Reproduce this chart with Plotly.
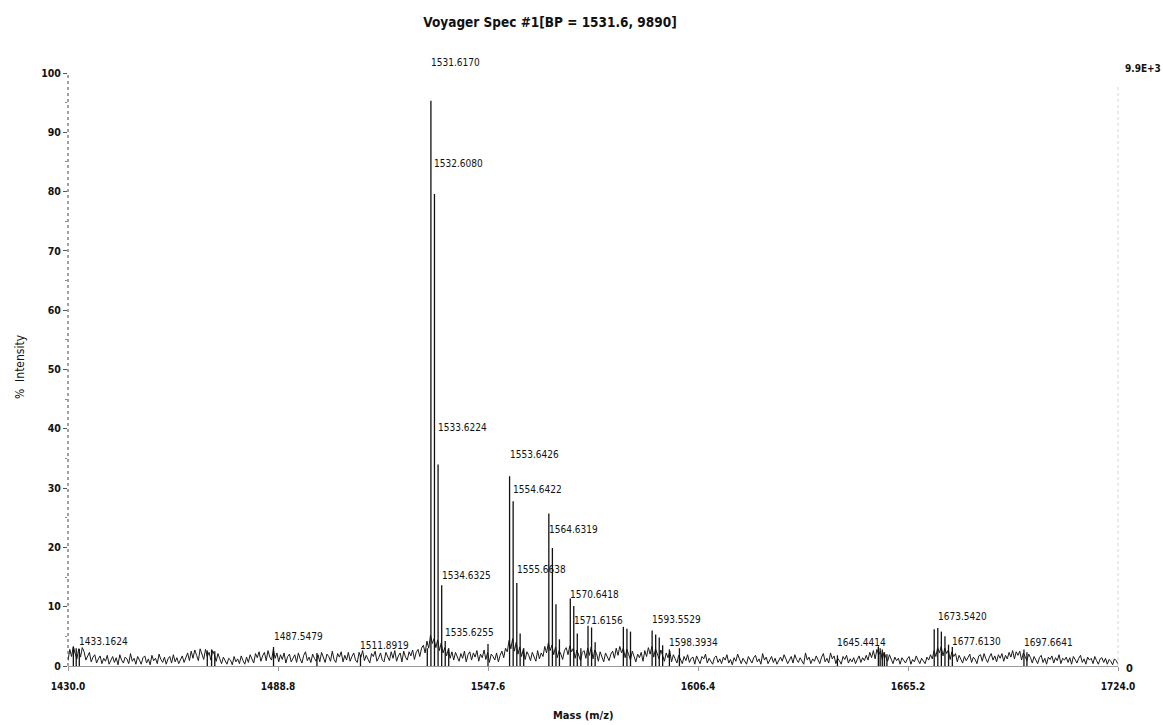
import plotly.graph_objects as go

# ---- data -------------------------------------------------------------
# baseline trace, % intensity, sampled every 0.5 Da starting at 1430.0
noise_start = 1430.0
noise_step = 0.5
noise = [
    0.9, 2.8, 1.6, 3.3, 2.1, 1.2, 2.9, 1.5, 3.1, 2.4, 1.0, 1.8, 2.3, 0.7, 1.5, 1.9, 0.5, 1.2, 1.7, 0.4,
    1.3, 0.8, 1.8, 0.3, 1.1, 1.6, 0.6, 1.4, 0.2, 1.9, 1.0, 0.5, 1.5, 1.2, 0.4, 2.1, 0.8, 1.3, 0.3, 1.6,
    1.0, 0.3, 1.4, 1.7, 0.5, 1.2, 0.2, 1.8, 0.9, 1.3, 0.4, 2.0, 1.1, 0.6, 1.5, 0.3, 1.2, 1.6, 0.5, 1.9,
    0.7, 1.4, 0.4, 1.1, 1.7, 0.6, 1.5, 2.2, 0.9, 2.5, 1.3, 2.7, 1.8, 0.9, 2.9, 2.0, 1.1, 2.8, 1.6, 2.3,
    1.0, 2.6, 1.9, 0.8, 2.1, 1.2, 0.4, 1.5, 0.9, 0.3, 1.3, 1.0, 0.2, 1.6, 0.7, 1.2, 0.4, 1.7, 0.9, 0.3,
    1.5, 0.6, 1.9, 1.2, 0.5, 2.1, 1.4, 2.4, 0.8, 1.7, 2.3, 0.9, 2.6, 1.5, 1.0, 2.8, 1.3, 2.2, 0.7, 1.9,
    1.1, 2.2, 0.5, 1.6, 2.0, 0.7, 1.4, 1.9, 0.6, 2.2, 1.2, 0.5, 1.8, 2.4, 0.9, 1.5, 0.6, 2.0, 1.3, 0.8,
    1.9, 0.7, 2.3, 1.4, 0.6, 2.0, 1.6, 0.8, 2.5, 1.1, 0.6, 2.1, 1.5, 2.4, 0.7, 1.8, 1.0, 2.3, 0.8, 1.6,
    2.2, 1.0, 0.6, 2.3, 1.5, 2.6, 0.9, 1.8, 1.2, 0.5, 2.1, 1.6, 2.5, 0.8, 1.4, 2.2, 1.0, 0.7, 2.3, 1.6,
    0.9, 2.4, 1.3, 2.6, 0.8, 1.7, 2.2, 0.7, 2.5, 1.5, 1.0, 2.4, 1.7, 2.7, 1.1, 2.3, 2.8, 1.6, 3.0, 3.5,
    2.2, 4.2, 3.0, 5.2, 3.8, 4.6, 3.1, 4.4, 2.6, 3.9, 2.2, 3.1, 1.7, 2.9, 1.3, 2.4, 1.0, 2.3, 1.4, 0.8,
    2.1, 1.3, 2.5, 0.7, 1.9, 2.4, 1.0, 2.2, 1.5, 2.6, 0.8, 2.0, 1.4, 2.7, 1.1, 2.3, 0.6, 2.0, 1.6, 1.0,
    2.2, 0.7, 1.8, 2.5, 1.4, 3.0, 2.4, 4.3, 2.9, 4.6, 2.5, 4.0, 2.0, 3.2, 1.6, 2.9, 1.1, 2.4, 1.8, 0.9,
    2.3, 1.5, 0.8, 2.6, 1.2, 2.2, 1.6, 3.3, 2.2, 3.9, 2.6, 3.5, 1.9, 3.2, 1.4, 2.6, 2.0, 1.1, 2.6, 3.1,
    1.9, 3.4, 2.4, 3.0, 1.3, 2.7, 1.8, 0.9, 2.3, 2.6, 1.3, 3.0, 1.8, 3.2, 1.2, 2.7, 2.1, 0.8, 2.4, 1.5,
    0.7, 2.2, 1.6, 0.9, 2.0, 2.5, 1.3, 3.0, 1.8, 3.3, 2.2, 3.0, 1.4, 2.8, 1.9, 1.0, 2.5, 1.6, 0.7, 2.0,
    1.4, 2.3, 0.8, 2.6, 1.6, 3.1, 2.0, 3.3, 1.5, 2.9, 2.2, 1.2, 2.7, 1.6, 0.8, 2.2, 1.4, 2.5, 0.7, 1.9,
    1.2, 0.5, 1.8, 1.1, 0.4, 1.6, 0.9, 1.9, 0.6, 1.3, 1.5, 0.3, 1.7, 1.0, 0.4, 1.6, 1.2, 2.0, 0.5, 1.3,
    0.9, 0.3, 1.4, 1.7, 0.6, 1.2, 0.4, 1.5, 1.0, 1.9, 0.5, 1.1, 0.2, 1.4, 0.8, 2.0, 1.2, 0.4, 1.3, 0.8,
    0.3, 1.6, 1.1, 0.5, 1.4, 1.8, 0.7, 1.2, 0.3, 2.1, 1.0, 1.5, 0.4, 1.1, 1.6, 0.6, 1.3, 0.3, 1.0, 1.5,
    0.8, 1.9, 1.2, 0.4, 1.0, 1.6, 0.5, 1.9, 1.1, 0.6, 1.4, 0.9, 0.3, 2.2, 1.0, 1.5, 0.4, 1.2, 0.8, 1.7,
    1.1, 0.4, 1.5, 2.1, 0.7, 1.3, 0.5, 2.2, 1.2, 1.7, 0.4, 1.3, 0.9, 0.3, 1.6, 1.1, 1.8, 0.5, 1.2, 0.7,
    1.4, 0.4, 1.1, 1.7, 0.6, 1.4, 0.9, 1.8, 1.0, 2.3, 1.4, 2.6, 1.2, 2.8, 1.9, 2.5, 1.1, 2.3, 1.5, 0.8,
    1.9, 1.0, 0.4, 1.5, 0.9, 1.3, 0.3, 1.4, 1.0, 0.5, 1.2, 1.6, 0.3, 1.1, 0.7, 1.7, 1.0, 0.4, 1.3, 0.8,
    0.4, 1.5, 1.0, 1.9, 1.2, 2.6, 1.6, 3.1, 2.2, 3.3, 1.7, 3.0, 2.1, 2.7, 1.1, 2.4, 1.6, 2.1, 0.7, 1.8,
    1.2, 0.5, 1.6, 0.9, 1.4, 2.0, 0.6, 1.5, 1.1, 0.4, 1.7, 1.9, 0.8, 2.1, 1.2, 0.6, 1.5, 2.1, 1.0, 1.7,
    0.7, 1.9, 1.3, 2.1, 0.8, 1.8, 1.2, 2.3, 1.5, 2.6, 1.2, 2.4, 1.8, 2.5, 1.0, 2.2, 1.6, 0.9, 2.0, 1.4,
    0.5, 1.6, 1.0, 0.4, 1.4, 1.8, 0.6, 1.3, 0.3, 1.5, 1.1, 1.7, 0.5, 1.4, 0.9, 1.9, 0.4, 1.3, 1.0, 1.5,
    0.6, 1.4, 0.3, 1.6, 1.1, 0.5, 1.3, 1.8, 0.6, 1.2, 0.3, 1.5, 1.0, 1.3, 0.4, 1.6, 0.9, 0.3, 1.2, 1.4,
    0.6, 1.3, 0.3, 1.1, 0.8, 0.2, 1.2, 0.9, 0.3,
]

# centroided peaks: m/z and % intensity
peak_mass = [
    1431.5, 1432.3, 1433.1624, 1469.0, 1470.2, 1471.1, 1487.5479, 1499.7, 1511.8919,
    1530.6, 1531.6170, 1532.6080, 1533.6224, 1534.6325, 1535.6255, 1536.6, 1547.6,
    1553.6426, 1554.6422, 1555.6638, 1556.6, 1557.6,
    1564.6319, 1565.63, 1566.63, 1567.6,
    1570.6418, 1571.6156, 1572.6, 1573.6, 1575.6, 1576.6, 1577.6,
    1585.5, 1586.5, 1587.5, 1593.5529, 1594.55, 1595.55, 1596.5, 1598.3934, 1601.2,
    1645.4414, 1656.9, 1657.4, 1658.0, 1658.6, 1659.3,
    1672.54, 1673.5420, 1674.54, 1675.55, 1676.55, 1677.6130, 1697.6641, 1698.5,
]
peak_int = [
    3.2, 3.0, 2.9, 2.6, 2.8, 2.5, 3.2, 2.2, 1.8,
    3.0, 95.3, 79.6, 34.0, 13.6, 4.2, 3.0, 3.7,
    32.0, 27.8, 14.0, 5.5, 3.0,
    25.7, 19.9, 10.4, 4.5,
    11.4, 10.1, 5.5, 3.0, 6.8, 6.5, 4.0,
    6.6, 6.3, 5.8, 6.0, 5.3, 4.8, 3.5, 2.8, 3.0,
    1.8, 3.3, 3.0, 2.8, 2.3, 2.0,
    6.2, 6.4, 5.8, 5.0, 3.6, 3.2, 2.8, 2.3,
]

# annotated peaks (m/z)
label_mass = [
    1433.1624, 1487.5479, 1511.8919, 1531.6170, 1532.6080, 1533.6224, 1534.6325,
    1535.6255, 1553.6426, 1554.6422, 1555.6638, 1564.6319, 1570.6418, 1571.6156,
    1593.5529, 1598.3934, 1645.4414, 1673.5420, 1677.6130, 1697.6641,
]
# vertical placement of each annotation, in % intensity
label_y = [
    4.2, 4.9, 3.5, 101.7, 84.8, 40.3, 15.3,
    5.7, 35.6, 29.7, 16.2, 23.1, 12.1, 7.6,
    7.9, 4.0, 3.9, 8.3, 4.2, 3.9,
]

x_ticks = [1430.0, 1488.8, 1547.6, 1606.4, 1665.2, 1724.0]
y_ticks = [0, 10, 20, 30, 40, 50, 60, 70, 80, 90, 100]

# ---- figure -----------------------------------------------------------
NARROW = "Liberation Sans Narrow, Arial Narrow, DejaVu Sans Condensed, sans-serif"
PX_PER_PCT = 593 / 100  # plot height / y range

noise_mass = [noise_start + i * noise_step for i in range(len(noise))]

stick_x, stick_y = [], []
for m, h in zip(peak_mass, peak_int):
    stick_x += [m, m, None]
    stick_y += [0, h, None]

fig = go.Figure()
fig.add_trace(go.Scatter(
    x=noise_mass, y=noise, mode="lines",
    line=dict(color="#1a1a1a", width=1), hoverinfo="skip", showlegend=False,
))
fig.add_trace(go.Scatter(
    x=stick_x, y=stick_y, mode="lines",
    line=dict(color="#111111", width=1.3), hoverinfo="skip", showlegend=False,
))

annotations = []
for m, yv in zip(label_mass, label_y):
    # annotations above the axis range are anchored at the top and shifted up
    y_anchor = min(yv, 100)
    annotations.append(dict(
        x=m, y=y_anchor, xref="x", yref="y", text=f"{m:.4f}", showarrow=False,
        xanchor="left", yanchor="middle", xshift=-2,
        yshift=(yv - y_anchor) * PX_PER_PCT,
        font=dict(family=NARROW, size=10, color="#111111"),
    ))

# right-hand absolute scale
annotations.append(dict(
    x=1, y=100, xref="paper", yref="y", text="9.9E+3", showarrow=False,
    xanchor="left", yanchor="middle", xshift=5, yshift=5,
    font=dict(family=NARROW, size=10, color="#111111", weight="bold"),
))
annotations.append(dict(
    x=1, y=0, xref="paper", yref="y", text="0", showarrow=False,
    xanchor="left", yanchor="middle", xshift=6, yshift=-2,
    font=dict(family=NARROW, size=11, color="#111111", weight="bold"),
))
# axis titles
annotations.append(dict(
    x=(583 - 68) / 1050, y=0, xref="paper", yref="paper", text="Mass (m/z)",
    showarrow=False, xanchor="center", yanchor="middle", yshift=-49,
    font=dict(family=NARROW, size=11, color="#111111", weight="bold"),
))
annotations.append(dict(
    x=0, y=(666 - 367) / 593, xref="paper", yref="paper", text="%  Intensity",
    showarrow=False, xanchor="center", yanchor="middle", xshift=-48, textangle=-90,
    font=dict(family=NARROW, size=12, color="#111111"),
))

shapes = [
    dict(type="line", xref="paper", yref="paper", x0=0, x1=0, y0=0, y1=1,
         line=dict(color="#444444", width=1, dash="dot")),
    dict(type="line", xref="paper", yref="paper", x0=1, x1=1, y0=0, y1=0.98,
         line=dict(color="#d4d4d4", width=1, dash="dot")),
]

fig.update_layout(
    width=1163, height=725,
    margin=dict(l=68, r=45, t=73, b=59),
    paper_bgcolor="white", plot_bgcolor="white",
    title=dict(
        text="Voyager Spec #1[BP = 1531.6, 9890]",
        x=550 / 1163, y=1 - 22 / 725, xanchor="center", yanchor="middle",
        xref="container", yref="container",
        font=dict(family=NARROW, size=13.5, color="#111111", weight="bold"),
    ),
    xaxis=dict(
        range=[1430, 1724], tickvals=x_ticks, ticktext=[f"{v:.1f}" for v in x_ticks],
        showgrid=False, zeroline=False, showline=True, linecolor="#9a9a9a", linewidth=1,
        ticks="outside", ticklen=4, tickcolor="#9a9a9a", ticklabelstandoff=7,
        tickfont=dict(family=NARROW, size=10, color="#111111", weight="bold"),
    ),
    yaxis=dict(
        range=[0, 100], tickvals=y_ticks,
        showgrid=False, zeroline=False, showline=False,
        ticks="outside", ticklen=4, tickcolor="#555555",
        minor=dict(dtick=5, ticks="outside", ticklen=2, tickcolor="#888888"),
        tickfont=dict(family=NARROW, size=10.5, color="#111111", weight="bold"),
    ),
    annotations=annotations,
    shapes=shapes,
)

fig.write_html("out.html")
